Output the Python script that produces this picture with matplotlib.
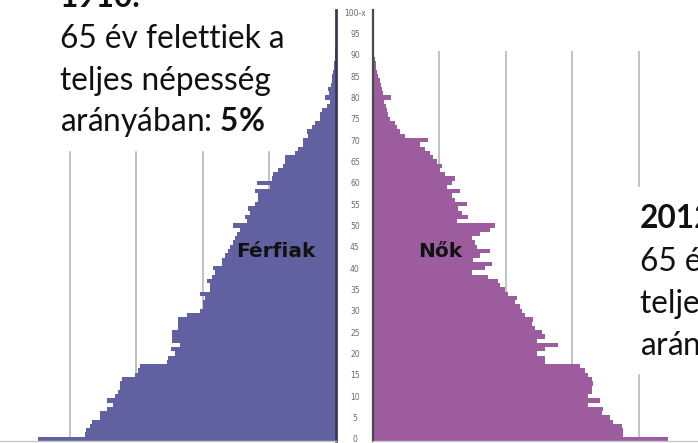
import numpy as np
import matplotlib
matplotlib.use("Agg")
import matplotlib.pyplot as plt
from matplotlib.patches import Rectangle

# korfa adatai (ezer fő, korévenként 0-95)
kor = np.arange(0, 96)
ferfiak = [44.8, 37.7, 37.6, 37.0, 36.7, 35.5, 35.5, 34.4, 33.5, 34.4,
           33.2, 32.8, 32.5, 32.5, 32.2, 30.2, 29.8, 29.5, 25.4, 25.3,
           24.2, 24.8, 23.5, 24.7, 24.7, 24.7, 23.8, 23.8, 23.8, 22.4,
           20.5, 20.0, 20.0, 19.7, 20.5, 18.9, 18.9, 19.4, 18.6, 18.2,
           18.5, 17.1, 17.1, 16.7, 16.2, 15.9, 15.5, 15.2, 14.9, 14.4,
           15.5, 13.4, 13.7, 12.9, 13.2, 12.2, 11.7, 11.7, 12.2, 9.9,
           11.9, 9.6, 9.5, 8.7, 8.0, 7.7, 7.7, 6.2, 5.7, 5.0,
           5.0, 4.2, 4.4, 3.6, 3.2, 2.4, 2.4, 2.1, 1.4, 0.9,
           1.7, 1.1, 1.2, 0.8, 0.6, 0.6, 0.5, 0.3, 0.3, 0.15,
           0.15, 0.1, 0.05, 0.05, 0.0, 0.0]
nok = [44.4, 37.6, 37.6, 37.4, 36.1, 35.6, 34.4, 34.6, 32.3, 34.1,
       32.3, 32.9, 32.9, 33.1, 32.9, 32.3, 31.9, 31.1, 25.9, 25.9,
       24.7, 25.9, 27.8, 24.7, 25.9, 25.4, 24.4, 23.9, 24.1, 22.9,
       22.4, 22.1, 21.4, 21.7, 20.3, 19.8, 19.1, 18.8, 17.3, 14.9,
       16.8, 17.9, 15.0, 16.1, 17.6, 15.6, 15.3, 14.9, 16.1, 17.6,
       18.3, 12.6, 14.3, 13.4, 12.8, 14.1, 12.3, 11.9, 13.1, 11.1,
       11.9, 12.3, 10.8, 10.1, 10.4, 9.6, 9.0, 8.6, 7.8, 7.1,
       8.3, 4.8, 4.1, 3.6, 3.3, 2.6, 2.3, 2.1, 2.0, 1.7,
       2.7, 1.5, 1.4, 1.2, 1.1, 0.8, 0.6, 0.5, 0.5, 0.3,
       0.2, 0.15, 0.1, 0.05, 0.0, 0.0]
kor_tick = list(range(0, 101, 5))
kor_felirat = [str(k) for k in range(0, 100, 5)] + ["100-x"]
racs = [10, 20, 30, 40]

W, H = 698, 443
fig = plt.figure(figsize=(W / 100, H / 100), dpi=100)
plt.rcParams['mathtext.fontset'] = 'custom'
plt.rcParams['mathtext.rm'] = 'Lato'
plt.rcParams['mathtext.bf'] = 'Lato:bold'

bottom = 2 / H
height = 431 / H
axL = fig.add_axes([0, bottom, 336 / W, height])
axR = fig.add_axes([373 / W, bottom, 325 / W, height])

axL.barh(kor, ferfiak, height=1.0, color='#6161a1', linewidth=0, zorder=2)
axR.barh(kor, nok, height=1.0, color='#9c5c9e', linewidth=0, zorder=2)

axL.set_xlim(50.5, 0)
axR.set_xlim(0, 48.9)
for ax in (axL, axR):
    ax.set_ylim(-0.5, 100.5)
    ax.vlines(racs, -0.5, 91, color='#b8b8b8', linewidth=1.2, zorder=1)
    ax.set_xticks([])
    ax.spines['top'].set_visible(False)
    ax.spines['bottom'].set_color('#c8c8c8')
    ax.spines['bottom'].set_linewidth(1.0)

axL.spines['left'].set_visible(False)
axL.spines['right'].set_color('#3a3a55')
axL.spines['right'].set_linewidth(2.0)
axL.set_yticks([])

axR.spines['right'].set_visible(False)
axR.spines['left'].set_color('#4a4a4a')
axR.spines['left'].set_linewidth(1.6)
axR.set_yticks(kor_tick)
axR.set_yticklabels(kor_felirat)
axR.tick_params(axis='y', length=0, pad=13, labelsize=5.5, labelcolor='#6a6a6a')
for lab in axR.get_yticklabels():
    lab.set_horizontalalignment('center')

axL.text(9.0, 44, "Férfiak", ha='center', va='center', fontsize=14.5,
         fontweight='bold', family='DejaVu Sans', color='#111111', zorder=3)
axR.text(10.1, 44, "Nők", ha='center', va='center', fontsize=14.5,
         fontweight='bold', family='DejaVu Sans', color='#111111', zorder=3)

# fehér háttér a szövegdobozok mögött
fig.add_artist(Rectangle((50 / W, 1 - 150 / H), 242 / W, 150 / H,
                         transform=fig.transFigure, color='white', zorder=5))
fig.add_artist(Rectangle((634 / W, 1 - 373 / H), 64 / W, 186 / H,
                         transform=fig.transFigure, color='white', zorder=5))

fs = 22.8
def sor(x, y, s, bold=False):
    fig.text(x / W, 1 - y / H, s, fontsize=fs, family='Lato', va='baseline',
             fontweight='bold' if bold else 'normal', color='#111111', zorder=6)

sor(60, 7, "1910.", bold=True)
sor(60, 48, "65 év felettiek a")
sor(60, 90, "teljes népesség")
sor(60, 131, r"arányában: $\mathbf{5\%}$")

sor(640, 228, "2012.", bold=True)
sor(640, 271, "65 év felettiek a")
sor(640, 313, "teljes népesség")
sor(640, 355, r"arányában: $\mathbf{17\%}$")

fig.savefig("out.png", dpi=100)
